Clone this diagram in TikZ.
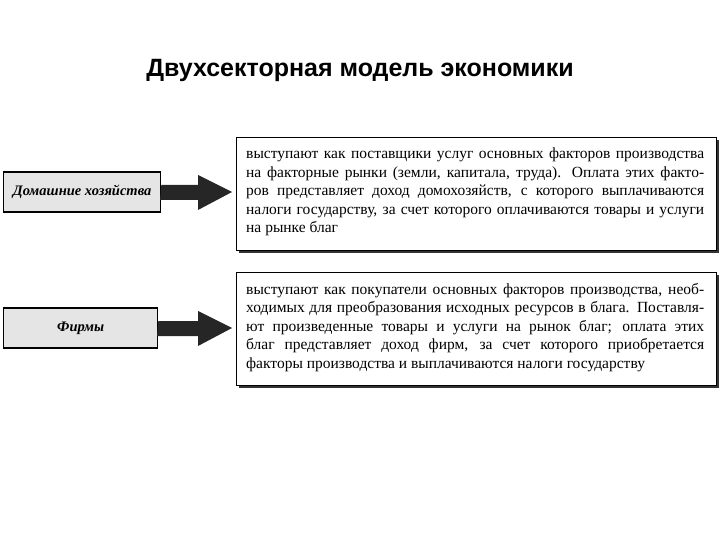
\documentclass[tikz,border=0pt]{standalone}
\usepackage{fontspec}
\setmainfont{Liberation Serif}
\newfontfamily\titlefont{Liberation Sans}
\begin{document}
\begin{tikzpicture}[x=1pt,y=-1pt]
\useasboundingbox (0,0) rectangle (720,540);
\tikzset{
 lbox/.style={draw=black,line width=1.3pt,fill=black!10,minimum height=40pt,inner sep=0pt},
 rbox/.style={draw=black,line width=1pt,fill=white,minimum width=480pt,minimum height=113pt,anchor=north west,inner sep=0pt},
 shade/.style={fill=black!80},
 bigarrow/.style={fill=black!85},
 txt/.style={anchor=north west,inner sep=0pt,font=\fontsize{15.5}{18.5}\selectfont,align=left}
}
\newcommand{\jline}[1]{\makebox[458pt][s]{#1}}
\node[font=\titlefont\bfseries\fontsize{25}{28}\selectfont] (title) at (360,70) {Двухсекторная модель экономики};
% top
\fill[shade] (239,140) rectangle (719,253);
\node[rbox] (r1) at (236,137) {};
\node[txt] (t1) at (246,148) {\jline{выступают как поставщики услуг основных факторов производства}\\
\jline{на факторные рынки (земли, капитала, труда). Оплата этих факто-}\\
\jline{ров представляет доход домохозяйств, с которого выплачиваются}\\
\jline{налоги государству, за счет которого оплачиваются товары и услуги}\\
на рынке благ};
\node[lbox,minimum width=157pt,anchor=west] (l1) at (3,192) {\itshape\bfseries\fontsize{14.5}{16}\selectfont Домашние хозяйства};
\fill[bigarrow] (l1.east)++(0,-7) -- (198,185) -- (198,175) -- (232,192) -- (198,210) -- (198,200) -- (160,200) -- cycle;
% bottom
\fill[shade] (239,275) rectangle (719,388);
\node[rbox] (r2) at (236,272) {};
\node[txt] (t2) at (246,283) {\jline{выступают как покупатели основных факторов производства, необ-}\\
\jline{ходимых для преобразования исходных ресурсов в блага. Поставля-}\\
\jline{ют произведенные товары и услуги на рынок благ; оплата этих}\\
\jline{благ представляет доход фирм, за счет которого приобретается}\\
факторы производства и выплачиваются налоги государству};
\node[lbox,minimum width=154pt,anchor=west] (l2) at (3,328) {\itshape\bfseries\fontsize{14.5}{16}\selectfont Фирмы};
\fill[bigarrow] (l2.east)++(0,-7) -- (198,321) -- (198,311) -- (232,328) -- (198,346) -- (198,336) -- (157,336) -- cycle;
\end{tikzpicture}
\end{document}
